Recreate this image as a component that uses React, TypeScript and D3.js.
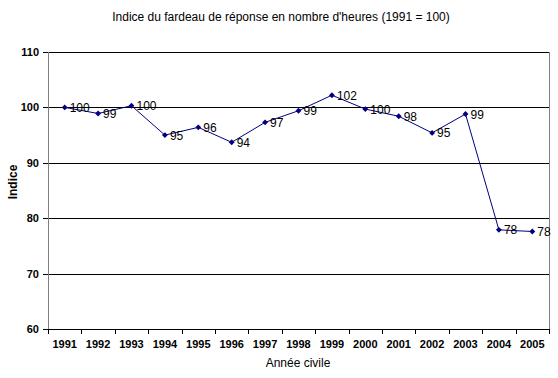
import React from "react";
import * as d3 from "d3";

const years = ["1991","1992","1993","1994","1995","1996","1997","1998","1999","2000","2001","2002","2003","2004","2005"];
const values = [100, 98.9, 100.3, 95.0, 96.4, 93.7, 97.3, 99.4, 102.2, 99.7, 98.4, 95.4, 98.8, 77.9, 77.6];
const yTicks = [60, 70, 80, 90, 100, 110];

const W = 558, H = 378;
const m = { left: 48, right: 549, top: 52, bottom: 329 };
const font = "'Liberation Sans', Arial, sans-serif";

export default function App() {
  const x = d3.scaleBand<string>().domain(years).range([m.left, m.right]);
  const y = d3.scaleLinear().domain([60, 110]).range([m.bottom, m.top]);
  const cx = (i: number) => (x(years[i]) as number) + x.bandwidth() / 2;
  const line = d3.line<number>().x((_, i) => cx(i)).y((d) => y(d));
  const boundaries = years.map((yr) => x(yr) as number).concat([m.right]);
  const diamond = d3.symbol().type(d3.symbolDiamond2).size(22)();
  const crisp = (v: number) => Math.round(v) + 0.5;

  return (
    <svg width={W} height={H} style={{ position: "absolute", left: 0, top: 0, fontFamily: font }}>
      <rect x={0} y={0} width={W} height={H} fill="#fff" />
      <text x={281} y={21} textAnchor="middle" fontSize={12} fill="#000">
        Indice du fardeau de réponse en nombre d'heures (1991 = 100)
      </text>
      {yTicks.filter((t) => t > 60).map((t) => (
        <line key={t} x1={m.left} x2={m.right} y1={crisp(y(t))} y2={crisp(y(t))} stroke="#000" strokeWidth={1} />
      ))}
      <line x1={crisp(m.right)} x2={crisp(m.right)} y1={m.top} y2={m.bottom} stroke="#808080" strokeWidth={1} />
      <line x1={crisp(m.left)} x2={crisp(m.left)} y1={m.top} y2={m.bottom + 1} stroke="#808080" strokeWidth={1} />
      {yTicks.map((t) => (
        <g key={t}>
          <line x1={m.left - 5} x2={m.left} y1={crisp(y(t))} y2={crisp(y(t))} stroke="#000" />
          <text x={39} y={y(t) + 4} textAnchor="end" fontSize={11} fontWeight="bold" fill="#000">{t}</text>
        </g>
      ))}
      <line x1={m.left - 5} x2={m.right + 1} y1={crisp(m.bottom)} y2={crisp(m.bottom)} stroke="#000" strokeWidth={1} />
      {boundaries.map((b, i) => (
        <line key={i} x1={crisp(b)} x2={crisp(b)} y1={m.bottom} y2={m.bottom + 5} stroke="#000" />
      ))}
      {years.map((yr, i) => (
        <text key={yr} x={cx(i)} y={348} textAnchor="middle" fontSize={11} fontWeight="bold" fill="#000">{yr}</text>
      ))}
      <text x={298} y={367} textAnchor="middle" fontSize={12} fill="#000">Année civile</text>
      <text transform={`translate(17,${182}) rotate(-90)`} textAnchor="middle" fontSize={12} fontWeight="bold" fill="#000">Indice</text>
      <path d={line(values) || ""} fill="none" stroke="#000080" strokeWidth={1} />
      {values.map((v, i) => (
        <path key={i} d={diamond || ""} transform={`translate(${cx(i)},${y(v)})`} fill="#000080" />
      ))}
      {values.map((v, i) => (
        <text key={"l" + i} x={cx(i) + 5} y={y(v) + 4.5} fontSize={12} fill="#000">{Math.round(v)}</text>
      ))}
    </svg>
  );
}
